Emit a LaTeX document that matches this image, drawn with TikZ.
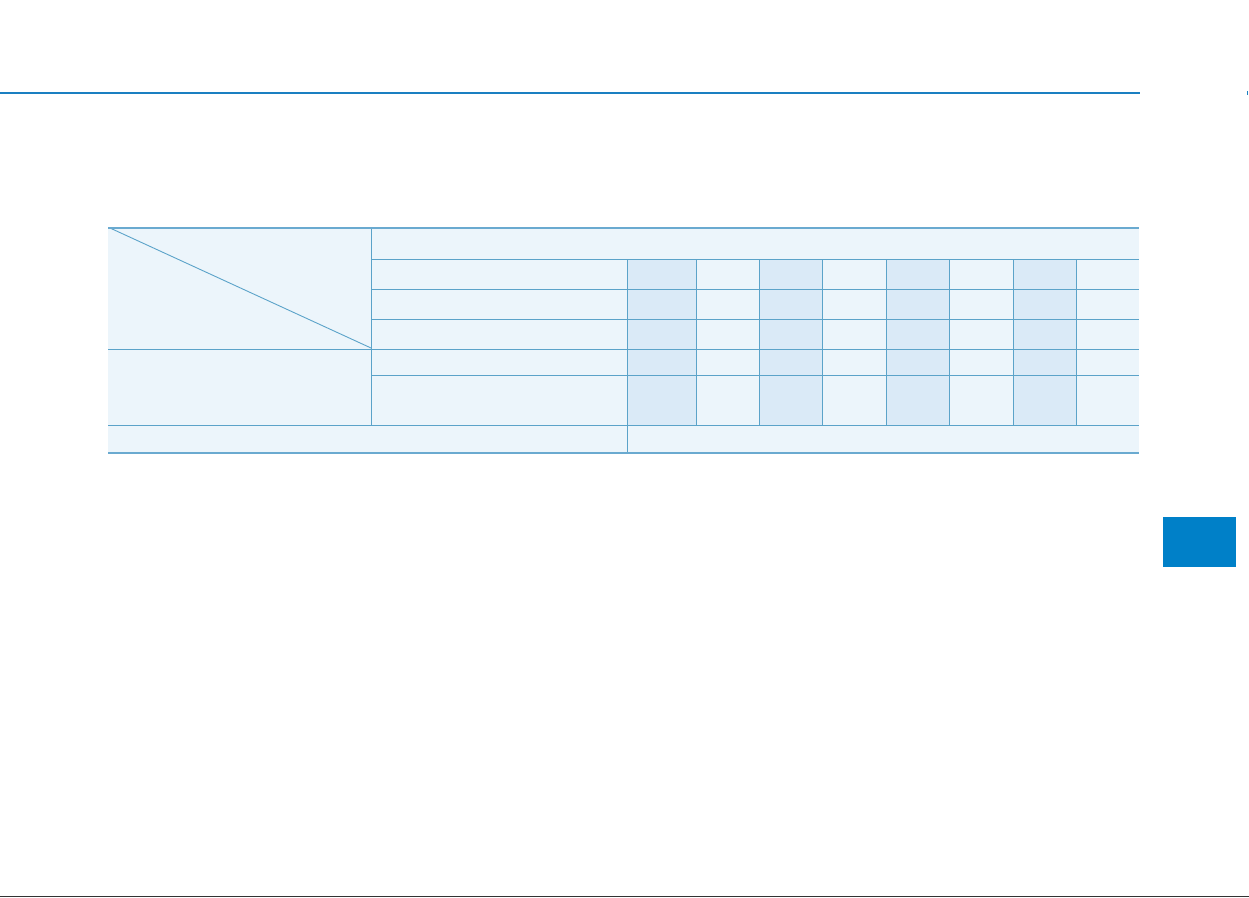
\documentclass[tikz,border=0pt]{standalone}
\usetikzlibrary{calc}
\definecolor{hdrblue}{HTML}{1A7FC1}
\definecolor{tabline}{HTML}{5BA3C9}
\definecolor{tabedge}{HTML}{6AAAD0}
\definecolor{celllight}{HTML}{ECF5FB}
\definecolor{celldark}{HTML}{DAEAF7}
\definecolor{tabbox}{HTML}{0080C8}
\tikzset{
  gridline/.style={draw=tabline, line width=0.9pt},
  edgeline/.style={draw=tabedge, line width=2pt},
}
\begin{document}
\begin{tikzpicture}[x=1pt,y=-1pt]
\useasboundingbox[fill=white] (0,0) rectangle (1249,897);
% header rule
\draw[hdrblue, line width=2.2pt] (0,93) -- (1140,93);
\draw[hdrblue, line width=1.5pt] (1247.5,91) -- (1247.5,95);
% table background
\fill[celllight] (108,228) rectangle (1139,452);
% shaded columns
\foreach \a/\b in {627/696,759/822,886/949,1013/1076}
  \fill[celldark] (\a,259) rectangle (\b,425);
% horizontal grid lines
\foreach \yy in {259,289,319,375}
  \draw[gridline] (371,\yy) -- (1139,\yy);
\draw[gridline] (108,349) -- (1139,349);
\draw[gridline] (108,425) -- (1139,425);
% vertical grid lines
\draw[gridline] (371,228) -- (371,425);
\draw[gridline] (627,259) -- (627,452);
\foreach \xx in {696,759,822,886,949,1013,1076}
  \draw[gridline] (\xx,259) -- (\xx,425);
% diagonal
\draw[gridline] (110,228) -- (371,348);
% top and bottom edges
\draw[edgeline] (108,228) -- (1139,228);
\draw[edgeline] (108,452.5) -- (1139,452.5);
% chapter tab
\fill[tabbox] (1163,517) rectangle (1236,567);
% bottom edge strip
\draw[black!80, line width=1pt] (0,896.5) -- (1249,896.5);
\end{tikzpicture}
\end{document}
